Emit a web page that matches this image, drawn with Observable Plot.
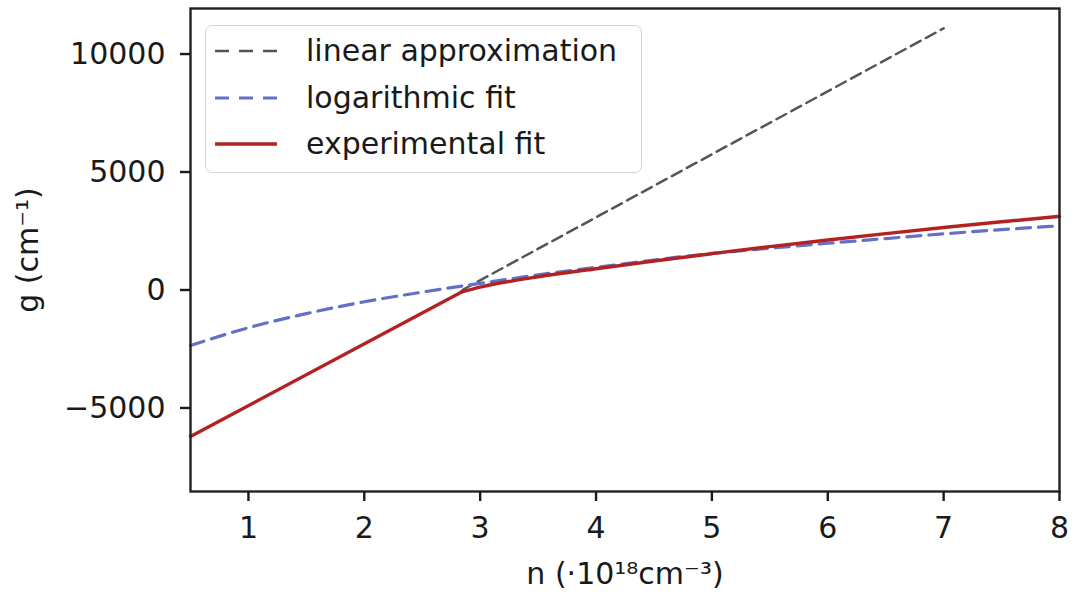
<!DOCTYPE html>
<html>
<head>
<meta charset="utf-8">
<script src="https://cdn.jsdelivr.net/npm/d3@7"></script>
<script src="https://cdn.jsdelivr.net/npm/@observablehq/plot@0.6"></script>
<style>
  body { margin: 0; background: #fff; }
  #wrap { position: relative; width: 1081px; height: 594px; font-family: "DejaVu Sans", sans-serif; }
  #legend { position: absolute; left: 205px; top: 25px; width: 437px; height: 148px; box-sizing: border-box;
            border: 1.5px solid #d4d4d4; border-radius: 7px; background: rgba(255,255,255,0.85); }
  .row { position: absolute; left: 0; height: 40px; display: flex; align-items: center; }
  .row svg { position: absolute; left: 9px; }
  .row span { position: absolute; left: 100px; white-space: nowrap; font-size: 30px; color: #1a1a1a; line-height: 40px; }
</style>
</head>
<body>
<div id="wrap"></div>
<script>
// ---- data ----
const xTicks = [1, 2, 3, 4, 5, 6, 7, 8];
const yTicks = [-5000, 0, 5000, 10000];

const linN = [2.85, 7.0];
const linG = [10, 11090];

const logN = [0.5, 1.0, 1.5, 2.0, 2.5, 3.0, 3.5, 4.0, 4.5, 5.0, 5.5, 6.0, 6.5, 7.0, 7.5, 8.0];
const logG = [-2350, -1600, -1000, -500, -90, 280, 640, 960, 1270, 1550, 1770, 1980, 2180, 2380, 2560, 2720];

const expN = [0.5, 2.84, 3.0, 3.5, 4.0, 4.5, 5.0, 5.5, 6.0, 6.5, 7.0, 7.5, 8.0];
const expG = [-6210, -80, 120, 560, 900, 1230, 1540, 1840, 2120, 2390, 2650, 2890, 3120];

const seriesNames = ["linear approximation", "logarithmic fit", "experimental fit"];
const seriesColors = ["#555555", "#6470c8", "#b22222"];
const seriesDash = ["11,6", "14,8", null];
const seriesWidth = [2.5, 3.2, 3.4];

const toRows = (ns, gs) => ns.map((n, i) => ({n, g: gs[i]}));
const linData = toRows(linN, linG);
const logData = toRows(logN, logG);
const expData = toRows(expN, expG);

const fmt = d => d < 0 ? "\u2212" + Math.abs(d) : String(d);

const chart = Plot.plot({
  width: 1081,
  height: 594,
  marginLeft: 190,
  marginRight: 22,
  marginTop: 8,
  marginBottom: 103,
  style: { fontFamily: "DejaVu Sans", fontSize: "30px", color: "#1a1a1a", background: "white" },
  x: { domain: [0.5, 8] },
  y: { domain: [-8540, 11930] },
  marks: [
    Plot.line(linData, { x: "n", y: "g", stroke: seriesColors[0], strokeWidth: seriesWidth[0], strokeDasharray: seriesDash[0] }),
    Plot.line(logData, { x: "n", y: "g", stroke: seriesColors[1], strokeWidth: seriesWidth[1], strokeDasharray: seriesDash[1], curve: "monotone-x" }),
    Plot.line(expData.slice(0, 2), { x: "n", y: "g", stroke: seriesColors[2], strokeWidth: seriesWidth[2] }),
    Plot.line(expData.slice(1), { x: "n", y: "g", stroke: seriesColors[2], strokeWidth: seriesWidth[2], curve: "monotone-x" }),
    Plot.frame({ stroke: "#222", strokeWidth: 2.4 }),
    Plot.axisX({ ticks: xTicks, tickSize: 10, tickPadding: 15, strokeWidth: 2.4, fontSize: 30, tickFormat: d => String(d),
                 label: "n (·10¹⁸cm⁻³)", labelAnchor: "center", labelArrow: "none", labelOffset: 92 }),
    Plot.axisY({ ticks: yTicks, tickSize: 10, tickPadding: 15, strokeWidth: 2.4, fontSize: 30, tickFormat: fmt,
                 label: "g (cm⁻¹)", labelAnchor: "center", labelArrow: "none", labelOffset: 174 })
  ]
});

const wrap = document.getElementById("wrap");
wrap.appendChild(chart);

// legend (HTML overlay, inside the plot area, upper left)
const legend = document.createElement("div");
legend.id = "legend";
seriesNames.forEach((name, i) => {
  const row = document.createElement("div");
  row.className = "row";
  row.style.top = (5 + i * 46.5) + "px";
  row.style.width = "430px";
  const svg = document.createElementNS("http://www.w3.org/2000/svg", "svg");
  svg.setAttribute("width", "66");
  svg.setAttribute("height", "40");
  const ln = document.createElementNS("http://www.w3.org/2000/svg", "line");
  ln.setAttribute("x1", "0"); ln.setAttribute("x2", "62");
  ln.setAttribute("y1", "20"); ln.setAttribute("y2", "20");
  ln.setAttribute("stroke", seriesColors[i]);
  ln.setAttribute("stroke-width", seriesWidth[i]);
  if (seriesDash[i]) ln.setAttribute("stroke-dasharray", "14,10");
  svg.appendChild(ln);
  const sp = document.createElement("span");
  sp.textContent = name;
  row.appendChild(svg);
  row.appendChild(sp);
  legend.appendChild(row);
});
wrap.appendChild(legend);
</script>
</body>
</html>
